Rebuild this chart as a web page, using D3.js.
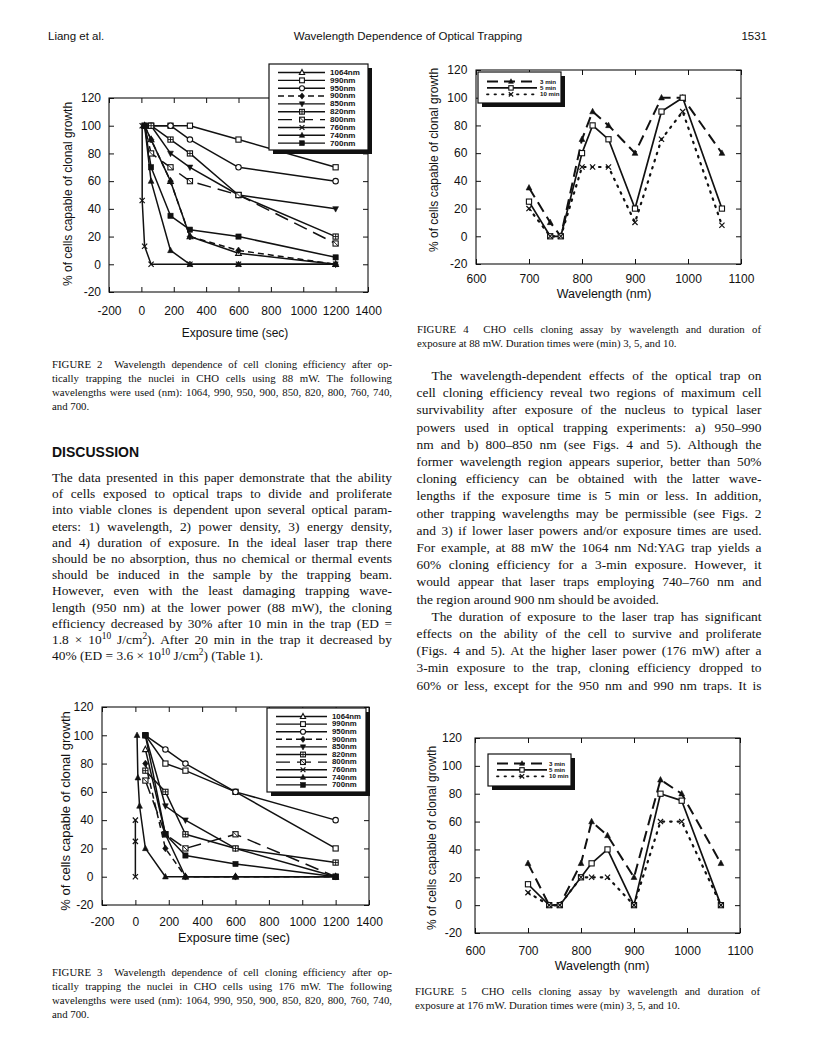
<!DOCTYPE html>
<html><head><meta charset="utf-8">
<script src="https://cdn.jsdelivr.net/npm/d3@7"></script>
<style>body{margin:0;background:#fff}svg{display:block}</style>
</head><body><svg id="page" width="816" height="1064"></svg>
<script>
// ---------------- DATA ----------------
const yTicks = [-20, 0, 20, 40, 60, 80, 100, 120];
const timeTicks = [-200, 0, 200, 400, 600, 800, 1000, 1200, 1400];
const wlTicks = [600, 700, 800, 900, 1000, 1100];
const seriesNames = ["1064nm","990nm","950nm","900nm","850nm","820nm","800nm","760nm","740nm","700nm"];
const durationNames = ["3 min","5 min","10 min"];

// Figure 2 (88 mW): [exposure time s, % clonal growth]
const f2_1064 = [[20,100],[60,90],[180,60],[300,20],[600,8],[1200,0]];
const f2_990  = [[60,100],[180,100],[300,100],[600,90],[1200,70]];
const f2_950  = [[60,100],[180,100],[300,90],[600,70],[1200,60]];
const f2_900  = [[20,100],[60,90],[180,60],[300,20],[600,10],[1200,0]];
const f2_850  = [[20,100],[60,100],[180,80],[300,70],[600,50],[1200,40]];
const f2_820  = [[60,100],[180,90],[300,80],[600,50],[1200,20]];
const f2_800  = [[20,100],[60,80],[180,70],[300,60],[600,50],[1200,15]];
const f2_760  = [[5,100],[5,46],[20,13],[60,0],[300,0],[600,0],[1200,0]];
const f2_740  = [[20,100],[60,60],[180,10],[300,0],[600,0],[1200,0]];
const f2_700  = [[20,100],[60,70],[180,35],[300,25],[600,20],[1200,5]];

// Figure 3 (176 mW)
const f3_1064 = [[60,90],[180,30],[300,0],[600,0],[1200,0]];
const f3_990  = [[60,100],[180,80],[300,75],[600,60],[1200,20]];
const f3_950  = [[60,100],[180,90],[300,80],[600,60],[1200,40]];
const f3_900  = [[60,80],[180,20],[300,0],[600,0],[1200,0]];
const f3_850  = [[60,100],[180,50],[300,40],[600,20],[1200,0]];
const f3_820  = [[60,75],[180,60],[300,30],[600,20],[1200,10]];
const f3_800  = [[60,68],[180,30],[300,20],[600,30],[1200,0]];
const f3_760  = [[0,40],[0,25],[0,0]];
const f3_740  = [[10,100],[15,70],[25,50],[60,20],[180,0],[300,0],[600,0],[1200,0]];
const f3_700  = [[60,100],[180,30],[300,15],[600,9],[1200,0]];

// Figures 4 & 5: wavelength vs % clonal growth
const wavelengths = [700, 740, 760, 800, 820, 850, 900, 950, 990, 1064];
const f4_3min  = [35, 10, 0, 70, 90, 80, 60, 100, 100, 60];
const f4_5min  = [25, 0, 0, 60, 80, 70, 20, 90, 100, 20];
const f4_10min = [20, 0, 0, 50, 50, 50, 10, 70, 90, 8];
const f5_3min  = [30, 0, 0, 30, 60, 50, 20, 90, 80, 30];
const f5_5min  = [15, 0, 0, 20, 30, 40, 0, 80, 75, 0];
const f5_10min = [9, 0, 0, 20, 20, 20, 0, 60, 60, 0];

// ---------------- STYLE ----------------
const SANS = "'Liberation Sans', Arial, Helvetica, sans-serif";
const SERIF = "'Liberation Serif', 'Times New Roman', serif";
const INK = "#111";
const wlStyles = [
  {sym:"triOpen", dash:null}, {sym:"sqOpen", dash:null}, {sym:"circOpen", dash:null},
  {sym:"diamond", dash:"6,4"}, {sym:"triDown", dash:null}, {sym:"sqPlus", dash:null},
  {sym:"sqDiag", dash:"14,7"}, {sym:"x", dash:null}, {sym:"tri", dash:null}, {sym:"sq", dash:null}
];
const durStyles = [
  {sym:"tri", dash:"11,6", width:2, cap:"butt"},
  {sym:"sqOpen", dash:null, width:1.7, cap:"butt"},
  {sym:"x", dash:"1.5,6", width:2.2, cap:"round"}
];

const svg = d3.select("#page");
svg.append("rect").attr("width",816).attr("height",1064).attr("fill","#fff");

function marker(g, type, x, y, r) {
  const m = g.append("g").attr("transform", `translate(${x},${y})`);
  const open = {fill:"#fff", stroke:INK, "stroke-width":1.1};
  const solid = {fill:INK, stroke:INK, "stroke-width":0.6};
  const ap = (sel, o) => { Object.entries(o).forEach(([k,v]) => sel.attr(k,v)); return sel; };
  switch (type) {
    case "triOpen": ap(m.append("path").attr("d",`M0,${-r*1.25}L${r*1.1},${r*0.85}L${-r*1.1},${r*0.85}Z`), open); break;
    case "tri": ap(m.append("path").attr("d",`M0,${-r*1.25}L${r*1.1},${r*0.85}L${-r*1.1},${r*0.85}Z`), solid); break;
    case "triDown": ap(m.append("path").attr("d",`M0,${r*1.25}L${r*1.1},${-r*0.85}L${-r*1.1},${-r*0.85}Z`), solid); break;
    case "sqOpen": ap(m.append("rect").attr("x",-r).attr("y",-r).attr("width",2*r).attr("height",2*r), open); break;
    case "sq": ap(m.append("rect").attr("x",-r).attr("y",-r).attr("width",2*r).attr("height",2*r), solid); break;
    case "sqPlus":
      ap(m.append("rect").attr("x",-r).attr("y",-r).attr("width",2*r).attr("height",2*r), open);
      m.append("path").attr("d",`M${-r},0H${r}M0,${-r}V${r}`).attr("stroke",INK).attr("stroke-width",0.9); break;
    case "sqDiag":
      ap(m.append("rect").attr("x",-r).attr("y",-r).attr("width",2*r).attr("height",2*r), open);
      m.append("path").attr("d",`M${-r},${-r}L${r},${r}`).attr("stroke",INK).attr("stroke-width",0.9); break;
    case "circOpen": ap(m.append("circle").attr("r",r*1.05), open); break;
    case "diamond": ap(m.append("path").attr("d",`M0,${-r*1.3}L${r*1.05},0L0,${r*1.3}L${-r*1.05},0Z`), solid); break;
    case "x": m.append("path").attr("d",`M${-r},${-r}L${r},${r}M${r},${-r}L${-r},${r}`).attr("stroke",INK).attr("stroke-width",1.2).attr("fill","none"); break;
  }
}

function drawAxes(g, x, y, xTicks, cfg) {
  const [l, r] = x.range(), [b, t] = y.range();
  const fmt = d => String(d);
  const styleTicks = sel => {
    sel.select(".domain").remove();
    sel.selectAll(".tick line").attr("stroke", INK).attr("stroke-width", 1);
    sel.selectAll(".tick text").attr("fill", INK).attr("font-size", 12).attr("font-family", SANS);
  };
  g.append("g").attr("transform",`translate(0,${b})`)
    .call(d3.axisBottom(x).tickValues(xTicks).tickSize(-5).tickPadding(cfg.xPad).tickFormat(fmt)).call(styleTicks);
  g.append("g").attr("transform",`translate(0,${t})`)
    .call(d3.axisTop(x).tickValues(xTicks).tickSize(-5).tickFormat("")).call(styleTicks);
  g.append("g").attr("transform",`translate(${l},0)`)
    .call(d3.axisLeft(y).tickValues(yTicks).tickSize(-5).tickPadding(cfg.yPad).tickFormat(fmt)).call(styleTicks);
  g.append("g").attr("transform",`translate(${r},0)`)
    .call(d3.axisRight(y).tickValues(yTicks).tickSize(-5).tickFormat("")).call(styleTicks);
  g.append("rect").attr("x",l).attr("y",t).attr("width",r-l).attr("height",b-t)
    .attr("fill","none").attr("stroke",INK).attr("stroke-width",1.1);
  g.append("text").attr("transform",`translate(${cfg.yTitle[0]},${cfg.yTitle[1]}) rotate(-90)`)
    .attr("text-anchor","middle").attr("font-family",SANS).attr("font-size",cfg.yTitleSize||12).attr("fill",INK)
    .text("% of cells capable of clonal growth");
  g.append("text").attr("x",cfg.xTitle[0]).attr("y",cfg.xTitle[1])
    .attr("text-anchor","middle").attr("font-family",SANS).attr("font-size",cfg.xTitleSize||12).attr("fill",INK)
    .text(cfg.xTitleText);
}

function drawSeries(g, x, y, list, r) {
  const line = d3.line().x(d => x(d[0])).y(d => y(d[1]));
  list.forEach(s => {
    const p = g.append("path").datum(s.data).attr("d", line).attr("fill","none")
      .attr("stroke", INK).attr("stroke-width", s.style.width || 1.5)
      .attr("stroke-linecap", s.style.cap || "butt").attr("stroke-linejoin","round");
    if (s.style.dash) p.attr("stroke-dasharray", s.style.dash);
  });
  list.forEach(s => s.data.forEach(d => marker(g, s.style.sym, x(d[0]), y(d[1]), r)));
}

function legend(g, c) {
  g.append("rect").attr("x",c.x+c.sh).attr("y",c.y+c.sh).attr("width",c.w).attr("height",c.h).attr("fill",INK);
  g.append("rect").attr("x",c.x).attr("y",c.y).attr("width",c.w).attr("height",c.h)
    .attr("fill","#fff").attr("stroke",INK).attr("stroke-width",1.2);
  c.names.forEach((name, i) => {
    const yy = c.row0 + i * c.step, st = c.styles[i];
    const p = g.append("line").attr("x1",c.l0).attr("x2",c.l1).attr("y1",yy).attr("y2",yy)
      .attr("stroke",INK).attr("stroke-width", st.width ? Math.min(st.width,1.8) : 1.4)
      .attr("stroke-linecap", st.cap || "butt");
    if (st.dash) p.attr("stroke-dasharray", st.dash);
    marker(g, st.sym, c.mx, yy, c.r);
    g.append("text").attr("transform",`translate(${c.tx},${yy + c.fs*0.36}) scale(${c.sx},1)`)
      .attr("font-family",SANS).attr("font-size",c.fs).attr("font-weight","bold")
      .attr("fill",INK).text(name);
  });
}

// ---------- Figure 2 ----------
{
  const g = svg.append("g");
  const x = d3.scaleLinear().domain([-200,1400]).range([109,368]);
  const y = d3.scaleLinear().domain([-20,120]).range([292,98]);
  drawAxes(g, x, y, timeTicks, {xPad:14, yPad:8, yTitle:[72,194], xTitle:[235,337], xTitleText:"Exposure time (sec)"});
  const data = [f2_1064,f2_990,f2_950,f2_900,f2_850,f2_820,f2_800,f2_760,f2_740,f2_700];
  drawSeries(g, x, y, data.map((d,i) => ({data:d, style:wlStyles[i]})), 2.6);
  legend(g, {x:269,y:64,w:99,h:86,sh:4,names:seriesNames,styles:wlStyles,row0:72.5,step:7.85,l0:278,l1:325,mx:302,tx:330,fs:6.7,sx:1.2,r:2.4});
}
// ---------- Figure 3 ----------
{
  const g = svg.append("g");
  const x = d3.scaleLinear().domain([-200,1400]).range([102,369]);
  const y = d3.scaleLinear().domain([-20,120]).range([905,707]);
  drawAxes(g, x, y, timeTicks, {xPad:12.5, yPad:8.5, yTitle:[70,811], yTitleSize:13, xTitle:[234,942], xTitleSize:12.6, xTitleText:"Exposure time (sec)"});
  const data = [f3_1064,f3_990,f3_950,f3_900,f3_850,f3_820,f3_800,f3_760,f3_740,f3_700];
  drawSeries(g, x, y, data.map((d,i) => ({data:d, style:wlStyles[i]})), 2.6);
  legend(g, {x:267,y:708,w:99,h:84,sh:4,names:seriesNames,styles:wlStyles,row0:716.5,step:7.6,l0:276,l1:327,mx:303,tx:332,fs:6.5,sx:1.2,r:2.4});
}
// ---------- Figure 4 ----------
{
  const g = svg.append("g");
  const x = d3.scaleLinear().domain([600,1100]).range([476,741]);
  const y = d3.scaleLinear().domain([-20,120]).range([264,70]);
  drawAxes(g, x, y, wlTicks, {xPad:10.5, yPad:8.7, yTitle:[438,160], xTitle:[604,298], xTitleSize:12.5, xTitleText:"Wavelength (nm)"});
  const sets = [f4_3min, f4_5min, f4_10min];
  drawSeries(g, x, y, sets.map((v,i) => ({data: wavelengths.map((w,j) => [w, v[j]]), style: durStyles[i]})), 2.6);
  legend(g, {x:478,y:72,w:83,h:31,sh:4,names:durationNames,styles:durStyles,row0:81.5,step:6.4,l0:487,l1:537,mx:511,tx:540,fs:5.6,sx:1.1,r:2.2});
}
// ---------- Figure 5 ----------
{
  const g = svg.append("g");
  const x = d3.scaleLinear().domain([600,1100]).range([475,740]);
  const y = d3.scaleLinear().domain([-20,120]).range([933,738]);
  drawAxes(g, x, y, wlTicks, {xPad:13, yPad:13, yTitle:[436,838], xTitle:[602,970], xTitleSize:12.5, xTitleText:"Wavelength (nm)"});
  const sets = [f5_3min, f5_5min, f5_10min];
  drawSeries(g, x, y, sets.map((v,i) => ({data: wavelengths.map((w,j) => [w, v[j]]), style: durStyles[i]})), 2.6);
  legend(g, {x:488,y:754,w:83,h:32,sh:4,names:durationNames,styles:durStyles,row0:763.5,step:6.4,l0:497,l1:547,mx:522,tx:549,fs:5.6,sx:1.1,r:2.2});
}

// ---------------- TEXT ----------------
function addText(str, x, y, o) {
  const t = svg.append("text").attr("x",x).attr("y",y)
    .attr("font-family", o.family || SERIF).attr("font-size", o.size).attr("fill", INK);
  if (o.weight) t.attr("font-weight", o.weight);
  if (o.anchor) t.attr("text-anchor", o.anchor);
  str.split(/(\^\{[^}]*\})/).forEach(p => {
    if (!p) return;
    if (p.startsWith("^{")) t.append("tspan").attr("baseline-shift","super").attr("font-size", o.size*0.7).text(p.slice(2,-1));
    else t.append("tspan").text(p);
  });
  if (o.width) {
    const w = t.node().getComputedTextLength();
    const n = (t.text().match(/[ \u00a0]/g) || []).length;
    if (n) t.style("word-spacing", ((o.width - w) / n) + "px");
    const w2 = t.node().getComputedTextLength();
    if (Math.abs(w2 - o.width) > 2) t.attr("textLength", o.width).attr("lengthAdjust","spacing");
  }
  return t;
}
function block(lines, x, y0, step, width, size) {
  lines.forEach((ln, i) => {
    const ind = ln.indent ? 15 : 0;
    addText(ln.t, x + ind, y0 + i * step, {size, width: ln.last ? null : width - ind});
  });
}

addText("Liang et al.", 48, 40, {family:SANS, size:11.5});
addText("Wavelength Dependence of Optical Trapping", 408, 40, {family:SANS, size:11.5, anchor:"middle"});
addText("1531", 767, 40, {family:SANS, size:11.5, anchor:"end"});

const capSize = 10.8, bodySize = 13.4;
block([
  {t:"FIGURE 2\u00a0\u00a0Wavelength dependence of cell cloning efficiency after op-"},
  {t:"tically trapping the nuclei in CHO cells using 88 mW. The following"},
  {t:"wavelengths were used (nm): 1064, 990, 950, 900, 850, 820, 800, 760, 740,"},
  {t:"and 700.", last:true}
], 52, 368, 14, 340, capSize);

addText("DISCUSSION", 52, 457, {family:SANS, size:14, weight:"bold"});

block([
  {t:"The data presented in this paper demonstrate that the ability"},
  {t:"of cells exposed to optical traps to divide and proliferate"},
  {t:"into viable clones is dependent upon several optical param-"},
  {t:"eters: 1) wavelength, 2) power density, 3) energy density,"},
  {t:"and 4) duration of exposure. In the ideal laser trap there"},
  {t:"should be no absorption, thus no chemical or thermal events"},
  {t:"should be induced in the sample by the trapping beam."},
  {t:"However, even with the least damaging trapping wave-"},
  {t:"length (950 nm) at the lower power (88 mW), the cloning"},
  {t:"efficiency decreased by 30% after 10 min in the trap (ED ="},
  {t:"1.8 \u00d7 10^{10} J/cm^{2}). After 20 min in the trap it decreased by"},
  {t:"40% (ED = 3.6 \u00d7 10^{10} J/cm^{2}) (Table 1).", last:true}
], 52, 482, 16.2, 340, bodySize);

block([
  {t:"FIGURE 3\u00a0\u00a0Wavelength dependence of cell cloning efficiency after op-"},
  {t:"tically trapping the nuclei in CHO cells using 176 mW. The following"},
  {t:"wavelengths were used (nm): 1064, 990, 950, 900, 850, 820, 800, 760, 740,"},
  {t:"and 700.", last:true}
], 52, 976, 14, 340, capSize);

block([
  {t:"FIGURE 4\u00a0\u00a0CHO cells cloning assay by wavelength and duration of"},
  {t:"exposure at 88 mW. Duration times were (min) 3, 5, and 10.", last:true}
], 417, 333, 14, 344, capSize);

block([
  {t:"The wavelength-dependent effects of the optical trap on", indent:true},
  {t:"cell cloning efficiency reveal two regions of maximum cell"},
  {t:"survivability after exposure of the nucleus to typical laser"},
  {t:"powers used in optical trapping experiments: a) 950\u2013990"},
  {t:"nm and b) 800\u2013850 nm (see Figs. 4 and 5). Although the"},
  {t:"former wavelength region appears superior, better than 50%"},
  {t:"cloning efficiency can be obtained with the latter wave-"},
  {t:"lengths if the exposure time is 5 min or less. In addition,"},
  {t:"other trapping wavelengths may be permissible (see Figs. 2"},
  {t:"and 3) if lower laser powers and/or exposure times are used."},
  {t:"For example, at 88 mW the 1064 nm Nd:YAG trap yields a"},
  {t:"60% cloning efficiency for a 3-min exposure. However, it"},
  {t:"would appear that laser traps employing 740\u2013760 nm and"},
  {t:"the region around 900 nm should be avoided.", last:true},
  {t:"The duration of exposure to the laser trap has significant", indent:true},
  {t:"effects on the ability of the cell to survive and proliferate"},
  {t:"(Figs. 4 and 5). At the higher laser power (176 mW) after a"},
  {t:"3-min exposure to the trap, cloning efficiency dropped to"},
  {t:"60% or less, except for the 950 nm and 990 nm traps. It is"}
], 416.5, 380, 17.2, 345, bodySize);

block([
  {t:"FIGURE 5\u00a0\u00a0CHO cells cloning assay by wavelength and duration of"},
  {t:"exposure at 176 mW. Duration times were (min) 3, 5, and 10.", last:true}
], 415, 995, 14, 345, capSize);
</script>
</body></html>
